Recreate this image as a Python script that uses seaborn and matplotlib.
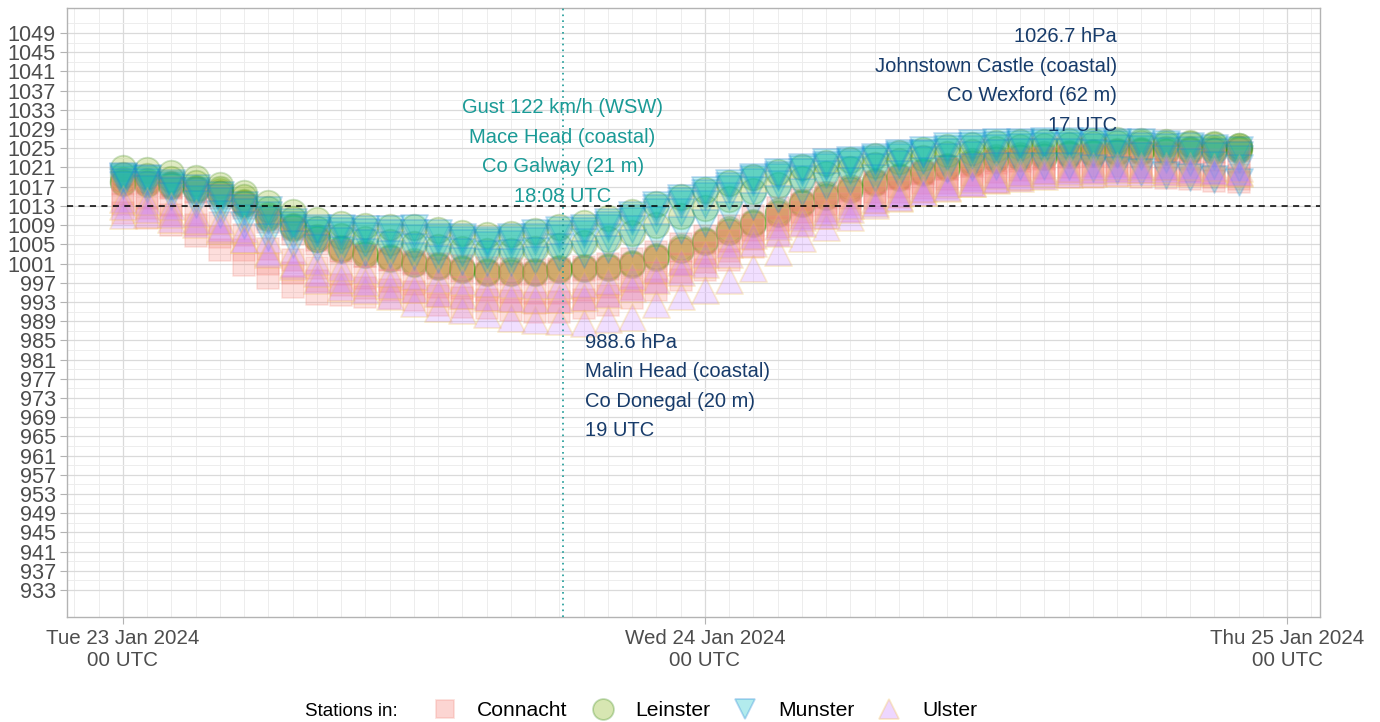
import pandas as pd
import matplotlib
matplotlib.use("Agg")
import matplotlib.pyplot as plt
import matplotlib.dates as mdates
from matplotlib.lines import Line2D
import numpy as np
import seaborn as sns

##-------------------------------------------
## hourly mean sea level pressure (hPa), Tue 23 Jan 00 UTC -> Wed 24 Jan 22 UTC
times = pd.date_range("2024-01-23 00:00", periods=47, freq="h")

# Connacht stations
connacht_1 = [1018.4, 1017.8, 1016.8, 1015.8, 1014.6, 1012.5, 1009.6, 1007.2, 1005.0, 1003.6,
              1002.6, 1001.9, 1001.3, 1000.8, 1000.4, 1000.0, 999.8, 999.7, 999.9, 1000.3,
              1000.9, 1001.9, 1003.3, 1005.0, 1006.8, 1008.8, 1010.8, 1012.6, 1014.2, 1015.6,
              1016.8, 1017.9, 1018.9, 1019.8, 1020.6, 1021.3, 1021.9, 1022.4, 1022.8, 1023.1,
              1023.3, 1023.4, 1023.3, 1023.1, 1022.8, 1022.5, 1022.1]
connacht_2 = [1015.5, 1014.6, 1013.2, 1011.5, 1009.5, 1007.0, 1004.0, 1001.8, 1000.0, 998.8,
              998.0, 997.3, 996.8, 996.2, 995.8, 995.4, 995.0, 994.8, 994.9, 995.4,
              996.2, 997.4, 999.0, 1001.0, 1003.2, 1005.6, 1008.0, 1010.0, 1011.8, 1013.3,
              1014.6, 1015.8, 1016.9, 1017.8, 1018.7, 1019.4, 1020.0, 1020.5, 1020.9, 1021.1,
              1021.2, 1021.2, 1021.0, 1020.7, 1020.3, 1019.9, 1019.5]
connacht_3 = [1011.5, 1010.5, 1009.0, 1006.7, 1003.8, 1000.7, 998.0, 996.1, 994.6, 994.4,
              994.0, 993.8, 993.4, 992.3, 991.9, 991.7, 991.3, 990.9, 990.9, 991.7,
              992.3, 993.8, 995.5, 997.5, 999.6, 1001.7, 1004.4, 1007.0, 1009.0, 1010.5,
              1012.0, 1013.5, 1014.8, 1015.8, 1016.7, 1017.4, 1018.0, 1018.4, 1018.8, 1019.0,
              1019.1, 1019.2, 1019.0, 1018.8, 1018.5, 1018.2, 1017.9]
connacht_4 = [1013.4, 1012.5, 1011.1, 1009.1, 1006.6, 1003.8, 1001.0, 999.0, 997.3, 996.6,
              996.0, 995.5, 995.1, 994.3, 993.8, 993.5, 993.1, 992.8, 992.9, 993.5,
              994.2, 995.6, 997.2, 999.2, 1001.4, 1003.6, 1006.2, 1008.5, 1010.4, 1011.9,
              1013.3, 1014.6, 1015.8, 1016.8, 1017.7, 1018.4, 1019.0, 1019.4, 1019.8, 1020.0,
              1020.1, 1020.2, 1020.0, 1019.7, 1019.4, 1019.0, 1018.7]
connacht_5 = [1017.6, 1017.4, 1016.9, 1016.1, 1015.3, 1013.2, 1010.3, 1008.2, 1005.8, 1003.6,
              1002.6, 1001.7, 1000.8, 1000.0, 999.4, 998.8, 998.9, 998.8, 999.4, 999.6,
              999.8, 1000.4, 1001.9, 1003.7, 1005.2, 1007.4, 1009.0, 1011.2, 1013.2, 1014.7,
              1016.2, 1017.5, 1018.6, 1019.6, 1020.6, 1021.6, 1022.4, 1022.8, 1023.0, 1023.3,
              1023.6, 1023.8, 1024.0, 1024.1, 1024.2, 1024.3, 1024.4]

# Leinster stations (leinster_1 = Johnstown Castle)
leinster_1 = [1020.9, 1020.5, 1019.8, 1018.8, 1017.3, 1015.7, 1013.6, 1011.7, 1010.0, 1009.2,
              1008.8, 1008.6, 1008.5, 1008.0, 1007.4, 1007.0, 1007.2, 1007.8, 1008.6, 1009.4,
              1010.4, 1011.8, 1013.4, 1014.8, 1016.4, 1017.8, 1019.0, 1020.0, 1021.0, 1021.9,
              1022.6, 1023.3, 1024.0, 1024.6, 1025.2, 1025.7, 1026.0, 1026.3, 1026.4, 1026.5,
              1026.6, 1026.7, 1026.6, 1026.4, 1026.1, 1025.8, 1025.5]
leinster_2 = [1018.0, 1017.8, 1017.3, 1016.5, 1015.7, 1013.6, 1010.7, 1008.6, 1006.2, 1004.0,
              1003.0, 1002.1, 1001.2, 1000.4, 999.8, 999.2, 999.3, 999.2, 999.8, 1000.0,
              1000.2, 1000.8, 1002.3, 1004.1, 1005.6, 1007.8, 1009.4, 1011.6, 1013.6, 1015.1,
              1016.6, 1017.9, 1019.0, 1020.0, 1021.0, 1022.0, 1022.8, 1023.2, 1023.4, 1023.7,
              1024.0, 1024.2, 1024.4, 1024.5, 1024.6, 1024.7, 1024.8]
leinster_3 = [1018.3, 1018.1, 1017.6, 1016.8, 1016.0, 1013.9, 1011.0, 1008.9, 1006.5, 1004.3,
              1003.3, 1002.4, 1001.5, 1000.7, 1000.1, 999.5, 999.6, 999.5, 1000.1, 1000.3,
              1000.5, 1001.1, 1002.6, 1004.4, 1005.9, 1008.1, 1009.7, 1011.9, 1013.9, 1015.4,
              1016.9, 1018.2, 1019.3, 1020.3, 1021.3, 1022.3, 1023.1, 1023.5, 1023.7, 1024.0,
              1024.3, 1024.5, 1024.7, 1024.8, 1024.9, 1025.0, 1025.1]
leinster_4 = [1019.5, 1019.2, 1018.6, 1017.7, 1016.6, 1014.8, 1012.3, 1010.2, 1008.2, 1006.8,
              1006.0, 1005.4, 1005.0, 1004.5, 1004.0, 1003.6, 1003.7, 1004.0, 1004.6, 1005.3,
              1006.1, 1007.3, 1009.0, 1010.8, 1012.6, 1014.4, 1016.0, 1017.4, 1018.6, 1019.7,
              1020.6, 1021.5, 1022.3, 1023.0, 1023.7, 1024.3, 1024.8, 1025.2, 1025.5, 1025.7,
              1025.9, 1026.0, 1026.0, 1025.9, 1025.8, 1025.6, 1025.4]
leinster_5 = [1017.8, 1017.6, 1017.1, 1016.3, 1015.5, 1013.4, 1010.5, 1008.4, 1006.0, 1003.8,
              1002.8, 1001.9, 1001.0, 1000.2, 999.6, 999.0, 999.1, 999.0, 999.6, 999.8,
              1000.0, 1000.6, 1002.1, 1003.9, 1005.4, 1007.6, 1009.2, 1011.4, 1013.4, 1014.9,
              1016.4, 1017.7, 1018.8, 1019.8, 1020.8, 1021.8, 1022.6, 1023.0, 1023.2, 1023.5,
              1023.8, 1024.0, 1024.2, 1024.3, 1024.4, 1024.5, 1024.6]

# Munster stations
munster_1 = [1019.2, 1018.8, 1017.8, 1016.7, 1015.3, 1013.2, 1012.1, 1009.6, 1008.4, 1008.4,
             1008.2, 1008.2, 1008.4, 1007.4, 1006.5, 1005.9, 1006.5, 1007.3, 1008.0, 1008.4,
             1009.6, 1011.0, 1013.2, 1014.6, 1016.3, 1017.8, 1019.0, 1020.0, 1021.1, 1022.1,
             1022.5, 1023.2, 1024.0, 1024.6, 1025.5, 1026.1, 1026.3, 1026.4, 1026.5, 1026.5,
             1026.5, 1026.4, 1026.2, 1025.9, 1025.5, 1025.1, 1024.6]
munster_2 = [1018.6, 1018.0, 1016.9, 1015.6, 1014.0, 1011.8, 1010.0, 1008.3, 1007.3, 1007.0,
             1006.7, 1006.5, 1006.4, 1005.8, 1005.2, 1004.8, 1005.0, 1005.6, 1006.4, 1007.2,
             1008.4, 1009.9, 1011.8, 1013.4, 1015.0, 1016.5, 1017.9, 1019.0, 1020.1, 1021.0,
             1021.7, 1022.4, 1023.1, 1023.7, 1024.3, 1024.8, 1025.1, 1025.3, 1025.4, 1025.4,
             1025.3, 1025.1, 1024.8, 1024.4, 1023.9, 1023.3, 1022.7]
munster_3 = [1018.0, 1017.3, 1016.0, 1014.5, 1012.6, 1010.4, 1008.4, 1006.9, 1006.0, 1005.6,
             1005.2, 1004.8, 1004.5, 1003.9, 1003.4, 1003.0, 1003.2, 1003.7, 1004.5, 1005.4,
             1006.6, 1008.1, 1010.0, 1011.8, 1013.4, 1015.0, 1016.4, 1017.6, 1018.7, 1019.6,
             1020.4, 1021.1, 1021.8, 1022.5, 1023.1, 1023.6, 1024.0, 1024.2, 1024.3, 1024.2,
             1024.0, 1023.7, 1023.3, 1022.8, 1022.2, 1021.5, 1020.8]
munster_4 = [1017.3, 1016.5, 1015.1, 1013.4, 1011.4, 1009.0, 1006.5, 1005.0, 1004.2, 1003.8,
             1003.4, 1003.0, 1002.6, 1002.0, 1001.6, 1001.3, 1001.4, 1001.8, 1002.3, 1003.0,
             1004.0, 1005.2, 1006.5, 1008.0, 1009.5, 1011.2, 1012.9, 1014.5, 1015.9, 1017.1,
             1018.1, 1018.9, 1019.6, 1020.2, 1020.7, 1021.1, 1021.3, 1021.4, 1021.4, 1021.2,
             1020.9, 1020.5, 1020.0, 1019.5, 1019.0, 1018.5, 1018.0]
munster_5 = [1019.0, 1018.5, 1017.4, 1016.2, 1014.7, 1012.6, 1011.0, 1009.0, 1007.9, 1007.7,
             1007.5, 1007.4, 1007.4, 1006.6, 1005.9, 1005.4, 1005.8, 1006.5, 1007.2, 1007.8,
             1009.0, 1010.5, 1012.5, 1014.0, 1015.7, 1017.2, 1018.5, 1019.5, 1020.6, 1021.5,
             1022.1, 1022.8, 1023.5, 1024.1, 1024.9, 1025.4, 1025.7, 1025.9, 1026.0, 1026.0,
             1025.9, 1025.8, 1025.5, 1025.2, 1024.7, 1024.2, 1023.6]

# Ulster stations (ulster_1 = Malin Head)
ulster_1 = [1011.0, 1011.3, 1010.3, 1009.2, 1008.0, 1006.0, 1003.5, 1000.5, 997.5, 996.2,
            995.5, 994.2, 992.8, 991.8, 991.3, 990.4, 989.7, 989.2, 989.0, 988.6,
            989.5, 989.9, 992.5, 994.3, 995.4, 997.5, 1000.0, 1003.3, 1006.3, 1008.6,
            1010.7, 1013.2, 1014.6, 1015.8, 1016.8, 1017.8, 1018.4, 1018.9, 1019.3, 1019.6,
            1019.8, 1020.0, 1020.1, 1020.1, 1020.1, 1020.0, 1019.9]
ulster_2 = [1014.5, 1014.0, 1013.0, 1011.6, 1010.0, 1008.2, 1006.0, 1003.6, 1001.5, 1000.3,
            999.6, 999.0, 998.3, 997.8, 997.4, 997.0, 996.7, 996.5, 996.5, 996.8,
            997.4, 998.4, 999.8, 1001.4, 1003.0, 1005.0, 1007.0, 1008.9, 1010.6, 1011.9,
            1013.1, 1014.4, 1015.6, 1016.7, 1017.7, 1018.6, 1019.4, 1020.0, 1020.5, 1020.9,
            1021.2, 1021.4, 1021.4, 1021.3, 1021.2, 1021.0, 1020.8]
ulster_3 = [1013.0, 1012.4, 1011.4, 1010.0, 1008.3, 1006.0, 1003.0, 1001.0, 999.0, 997.8,
            997.2, 996.5, 995.6, 994.9, 994.5, 994.1, 993.8, 993.6, 993.7, 994.0,
            994.7, 995.9, 997.5, 999.2, 1000.8, 1003.0, 1005.2, 1007.4, 1009.4, 1011.0,
            1012.3, 1013.6, 1014.8, 1015.9, 1016.9, 1017.8, 1018.6, 1019.3, 1019.8, 1020.2,
            1020.5, 1020.7, 1020.7, 1020.6, 1020.5, 1020.3, 1020.1]

stations = {
    "Connacht": [connacht_1, connacht_2, connacht_3, connacht_4, connacht_5],
    "Leinster": [leinster_1, leinster_2, leinster_3, leinster_4, leinster_5],
    "Munster": [munster_1, munster_2, munster_3, munster_4, munster_5],
    "Ulster": [ulster_1, ulster_2, ulster_3],
}

rows = []
for prov, lst in stations.items():
    for i, vals in enumerate(lst):
        assert len(vals) == len(times), (prov, i, len(vals))
        for t, v in zip(times, vals):
            rows.append({"time": t, "pressure": v, "province": prov, "station": f"{prov}{i}"})
data = pd.DataFrame(rows)

##-------------------------------------------
## styles
fill = {"Connacht": "#F8766D", "Leinster": "#7CAE00", "Munster": "#00BFC4", "Ulster": "#C77CFF"}
edge = {"Connacht": "#F39A8F", "Leinster": "#3A8A18", "Munster": "#1F80D6", "Ulster": "#F5C04A"}
marker = {"Connacht": "s", "Leinster": "o", "Munster": "v", "Ulster": "^"}
msize = {"Connacht": 260, "Leinster": 340, "Munster": 380, "Ulster": 380}
alpha = 0.24

teal = "#1A9A96"
navy = "#173B6A"
grey_txt = "#4D4D4D"

plt.rcParams["font.family"] = ["Liberation Sans", "DejaVu Sans"]

fig = plt.figure(figsize=(13.8, 7.22), dpi=100)
ax = fig.add_axes([67 / 1380, 1 - 617 / 722, (1320 - 67) / 1380, (617 - 8) / 722])

# circles first so the squares tint them (as in the original)
for prov in ["Leinster", "Connacht", "Munster", "Ulster"]:
    sub = data[data.province == prov]
    sns.scatterplot(data=sub, x="time", y="pressure", ax=ax, marker=marker[prov],
                    color=fill[prov], edgecolor=edge[prov], linewidth=1.3,
                    s=msize[prov], alpha=alpha, legend=False, zorder=3)

ax.axhline(1013, color="black", linestyle=(0, (4, 3.5)), linewidth=1.1, zorder=4)
gust_time = pd.Timestamp("2024-01-23 18:08")
ax.axvline(gust_time, color=teal, linestyle=(0, (1, 2.5)), linewidth=1.2, zorder=4)

## axes
t0 = pd.Timestamp("2024-01-23 00:00")
ax.set_xlim(t0 - pd.Timedelta(hours=2.3), t0 + pd.Timedelta(hours=49.36))
ax.set_ylim(927.4, 1054.2)
ax.set_yticks(np.arange(933, 1050, 4))
ax.set_yticks(np.arange(935, 1054, 4), minor=True)
ax.xaxis.set_major_locator(mdates.DayLocator())
ax.xaxis.set_major_formatter(mdates.DateFormatter("%a %d %b %Y\n%H UTC"))
ax.xaxis.set_minor_locator(mdates.HourLocator())
for lab in ax.get_xticklabels():
    lab.set_multialignment("center")
ax.set_xlabel("")
ax.set_ylabel("")
ax.grid(which="major", color="#DADADA", linewidth=0.9, zorder=0)
ax.grid(which="minor", color="#EDEDED", linewidth=0.7, zorder=0)
ax.set_axisbelow(True)
for sp in ax.spines.values():
    sp.set_color("#B3B3B3")
    sp.set_linewidth(1.0)
ax.tick_params(which="major", length=5, color="#B3B3B3", labelcolor=grey_txt, pad=3)
ax.tick_params(which="minor", length=0)
ax.tick_params(axis="y", labelsize=15.6)
ax.tick_params(axis="x", labelsize=14.8, pad=4)

## annotations
def lines(x, y, txt, color, ha, down=True):
    step = -21.2 if down else 21.2
    for i, s in enumerate(txt):
        ax.annotate(s, xy=(x, y), xytext=(0, i * step), textcoords="offset points",
                    ha=ha, va="center", color=color, fontsize=14.5, zorder=6)

lines(gust_time, 1015.0,
      ["18:08 UTC", "Co Galway (21 m)", "Mace Head (coastal)", "Gust 122 km/h (WSW)"],
      teal, "center", down=False)
malin_t = t0 + pd.Timedelta(hours=19.05)
lines(malin_t, 984.6,
      ["988.6 hPa", "Malin Head (coastal)", "Co Donegal (20 m)", "19 UTC"], navy, "left")
jc_t = t0 + pd.Timedelta(hours=41)
lines(jc_t, 1048.2,
      ["1026.7 hPa", "Johnstown Castle (coastal)", "Co Wexford (62 m)", "17 UTC"], navy, "right")

## legend
handles = [Line2D([], [], linestyle="", marker=marker[p], markersize=15 if p != "Connacht" else 13,
                  markerfacecolor=fill[p], markeredgecolor=edge[p], alpha=0.3, markeredgewidth=1.3)
           for p in stations]
fig.text(305 / 1380, 1 - 711 / 722, "Stations in:", fontsize=13.5, color="black", va="center", ha="left")
fig.legend(handles, list(stations), loc="center left", bbox_to_anchor=(433 / 1380, 1 - 711 / 722),
           ncol=4, frameon=False, fontsize=15.2, handlelength=1.1, handletextpad=1.0,
           columnspacing=1.1, borderaxespad=0, borderpad=0)

fig.savefig("out.png", dpi=100)
